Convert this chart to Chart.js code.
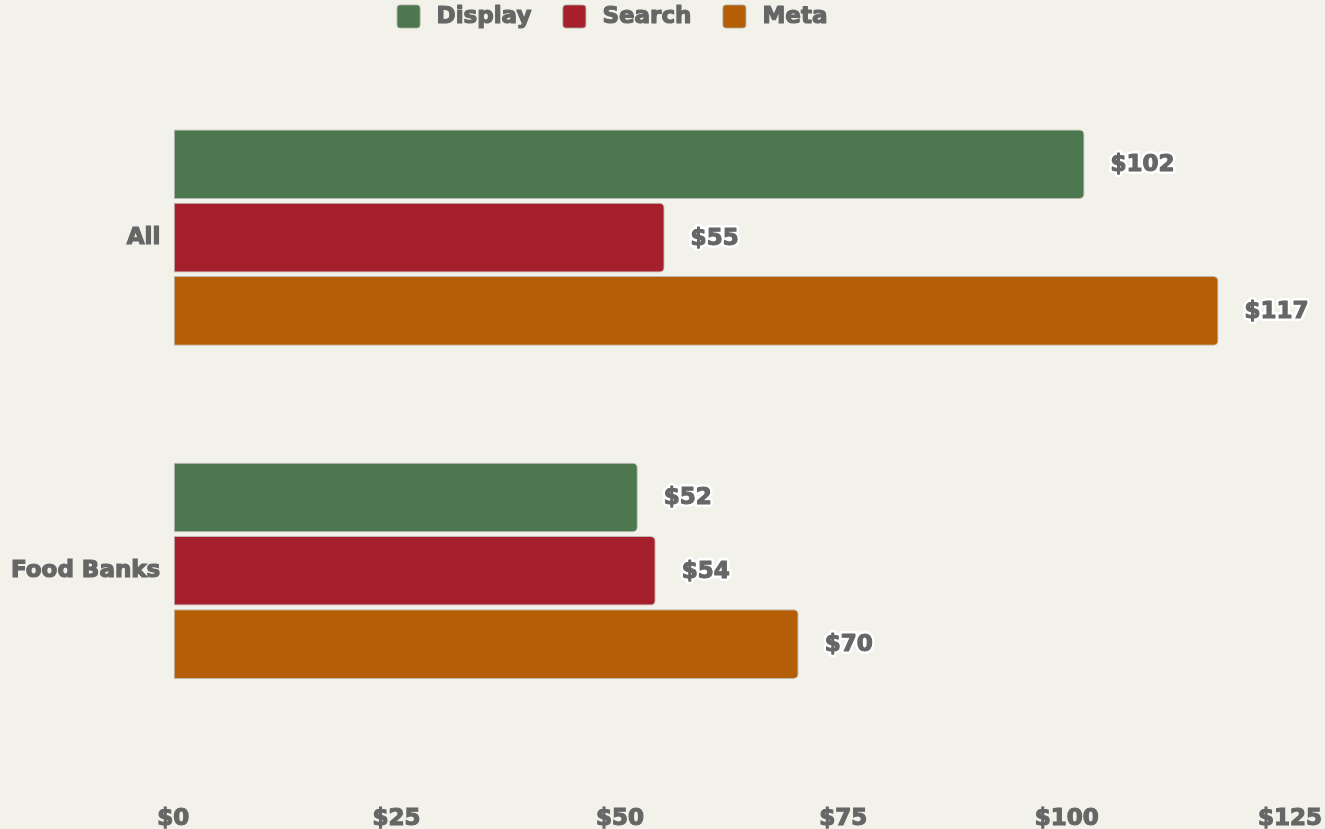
<!DOCTYPE html>
<html>
<head>
<meta charset="utf-8">
<script src="https://cdn.jsdelivr.net/npm/chart.js@4/dist/chart.umd.min.js"></script>
<style>
  html, body { margin: 0; padding: 0; background: #f2f1ea; overflow: hidden; }
  canvas { display: block; }
</style>
</head>
<body>
<canvas id="chart" width="1325" height="829"></canvas>
<script>
// Cost per result by channel
const categories = ['All', 'Food Banks'];
const seriesNames = ['Display', 'Search', 'Meta'];
const displayValues = [102, 52];
const searchValues = [55, 54];
const metaValues = [117, 70];
const xTicks = [0, 25, 50, 75, 100, 125];

const seriesColors = ['#4c774f', '#a51f2d', '#b45f07'];
const FONT = "'DejaVu Sans', sans-serif";
const TEXT = '#666';
const HEAVY = 1.2; // extra stroke to thicken the bold face

const money = v => '$' + v;

// Value labels drawn just past the end of each bar, with a white halo
const valueLabels = {
  id: 'valueLabels',
  afterDatasetsDraw(chart) {
    const ctx = chart.ctx;
    ctx.save();
    ctx.font = 'bold 23px ' + FONT;
    ctx.textAlign = 'left';
    ctx.textBaseline = 'middle';
    ctx.lineJoin = 'round';
    chart.data.datasets.forEach((ds, di) => {
      chart.getDatasetMeta(di).data.forEach((bar, i) => {
        const txt = money(ds.data[i]);
        const x = bar.x + 26, y = bar.y + 1;
        ctx.lineWidth = 6;
        ctx.strokeStyle = '#ffffff';
        ctx.strokeText(txt, x, y);
        ctx.lineWidth = HEAVY;
        ctx.strokeStyle = TEXT;
        ctx.strokeText(txt, x, y);
        ctx.fillStyle = TEXT;
        ctx.fillText(txt, x, y);
      });
    });
    ctx.restore();
  }
};

// Legend row across the top
const topLegend = {
  id: 'topLegend',
  afterDraw(chart) {
    const ctx = chart.ctx;
    ctx.save();
    ctx.font = 'bold 23px ' + FONT;
    ctx.lineJoin = 'round';
    const box = 23, gapText = 17, gapItem = 31;
    const items = chart.data.datasets.map(ds => ({
      label: ds.label, color: ds.backgroundColor, w: ctx.measureText(ds.label).width
    }));
    const total = items.reduce((s, it) => s + box + gapText + it.w, 0) + gapItem * (items.length - 1);
    let x = 612 - total / 2;
    const cy = 16;
    items.forEach(it => {
      ctx.beginPath();
      ctx.roundRect(x + 0.5, cy - box / 2 + 0.5, box, box, 3);
      ctx.fillStyle = it.color;
      ctx.fill();
      ctx.lineWidth = 1;
      ctx.strokeStyle = 'rgba(170,170,160,0.8)';
      ctx.stroke();
      ctx.textAlign = 'left';
      ctx.textBaseline = 'middle';
      ctx.lineWidth = HEAVY;
      ctx.strokeStyle = TEXT;
      ctx.strokeText(it.label, x + box + gapText, cy + 1);
      ctx.fillStyle = TEXT;
      ctx.fillText(it.label, x + box + gapText, cy + 1);
      x += box + gapText + it.w + gapItem;
    });
    ctx.restore();
  }
};

const seriesData = [displayValues, searchValues, metaValues];

const tickFont = { family: FONT, size: 23, weight: 'bold' };

// Invisible tick marks used only as spacing between the axis and its labels
const spacer = len => ({
  display: true,
  drawOnChartArea: false,
  drawTicks: true,
  tickLength: len,
  color: 'rgba(0,0,0,0)'
});

new Chart(document.getElementById('chart'), {
  type: 'bar',
  data: {
    labels: categories,
    datasets: seriesNames.map((name, i) => ({
      label: name,
      data: seriesData[i],
      backgroundColor: seriesColors[i],
      borderColor: 'rgba(180,180,170,0.9)',
      borderWidth: 1,
      borderSkipped: false,
      borderRadius: { topLeft: 0, bottomLeft: 0, topRight: 5, bottomRight: 5 },
      categoryPercentage: 0.66,
      barPercentage: 0.95
    }))
  },
  options: {
    indexAxis: 'y',
    responsive: false,
    maintainAspectRatio: false,
    animation: false,
    devicePixelRatio: 1,
    layout: { padding: { top: 71, right: 3, bottom: -7, left: 8 } },
    plugins: {
      legend: { display: false },
      tooltip: { enabled: false }
    },
    scales: {
      x: {
        min: 0,
        max: 125,
        afterBuildTicks(scale) { scale.ticks = xTicks.map(v => ({ value: v })); },
        grid: spacer(65),
        border: { display: false },
        ticks: {
          color: TEXT,
          font: tickFont,
          textStrokeColor: TEXT,
          textStrokeWidth: HEAVY,
          padding: 3,
          maxRotation: 0,
          callback: v => money(v)
        }
      },
      y: {
        grid: spacer(10),
        border: { display: false },
        ticks: {
          color: TEXT,
          font: tickFont,
          textStrokeColor: TEXT,
          textStrokeWidth: HEAVY,
          padding: 3
        }
      }
    }
  },
  plugins: [valueLabels, topLegend]
});
</script>
</body>
</html>
